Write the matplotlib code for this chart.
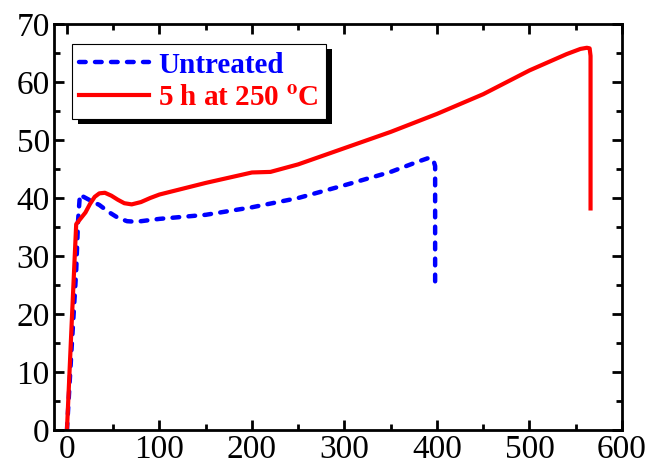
import matplotlib
matplotlib.use("Agg")
import matplotlib.pyplot as plt
from matplotlib.patches import Rectangle
from matplotlib.ticker import MultipleLocator

plt.rcParams['font.family'] = ['Liberation Serif', 'DejaVu Serif']
plt.rcParams['mathtext.fontset'] = 'stix'

# Untreated curve
x_untreated = [0, 5, 10, 12, 14, 18, 25, 35, 45, 55, 65, 75, 100, 150, 200, 250, 300, 350, 380, 391, 396, 398, 398]
y_untreated = [0, 14, 27.5, 36, 40.6, 40.2, 39.6, 38.8, 37.6, 36.6, 36.0, 35.9, 36.4, 37.1, 38.4, 40.0, 42.2, 44.5, 46.3, 46.9, 46.6, 45.5, 25.5]

# 5 h at 250 C curve
x_treated = [0, 5, 10, 15, 20, 25, 30, 35, 41, 48, 55, 62, 70, 80, 90, 100, 150, 200, 220, 250, 300, 350, 400, 450, 500, 540, 555, 562, 565, 566, 566]
y_treated = [0, 18, 35.5, 36.5, 37.5, 39.0, 40.2, 40.8, 40.9, 40.4, 39.7, 39.1, 38.9, 39.3, 40.0, 40.6, 42.6, 44.4, 44.5, 45.8, 48.6, 51.4, 54.5, 57.9, 62.0, 64.8, 65.7, 65.9, 65.8, 64.5, 38.2]

xticks = [0, 100, 200, 300, 400, 500, 600]
yticks = [0, 10, 20, 30, 40, 50, 60, 70]

fig = plt.figure(figsize=(6.51, 4.73), dpi=100)
ax = fig.add_axes([54 / 651, 43 / 473, 568 / 651, 406 / 473])

ax.plot(x_untreated, y_untreated, color='#0000ff', lw=3.2, ls=(0, (1.5, 2.1)),
        dash_capstyle='round', label='Untreated')
ax.plot(x_treated, y_treated, color='#ff0000', lw=3.0, label='5 h at 250 $^{\\mathbf{o}}$C')

ax.set_xlim(-14, 600)
ax.set_ylim(0, 70)
ax.set_xticks(xticks)
ax.set_yticks(yticks)
ax.xaxis.set_minor_locator(MultipleLocator(50))
ax.yaxis.set_minor_locator(MultipleLocator(5))
ax.tick_params(which='both', direction='in', top=True, right=True, labelsize=24, width=2, pad=3)
ax.tick_params(which='major', length=7)
ax.tick_params(which='minor', length=4)
for s in ax.spines.values():
    s.set_linewidth(2)

leg = ax.legend(loc='upper left', bbox_to_anchor=(0.032, 0.95), frameon=True, fancybox=False,
                edgecolor='black', framealpha=1, borderaxespad=0,
                prop={'weight': 'bold', 'size': 21}, handlelength=2.4, handletextpad=0.3,
                borderpad=0.25, labelspacing=0.2)
leg.get_frame().set_linewidth(0.8)
for txt, ln in zip(leg.get_texts(), leg.get_lines()):
    txt.set_color(ln.get_color())

# black drop shadow behind the legend
fig.canvas.draw()
bb = leg.get_window_extent().transformed(fig.transFigure.inverted())
shadow = Rectangle((bb.x0 + 6 / 651, bb.y0 - 5 / 473), bb.width, bb.height,
                   transform=fig.transFigure, facecolor='black', edgecolor='none', zorder=4)
fig.patches.append(shadow)
leg.set_zorder(10)
ax.set_zorder(5)
ax.patch.set_visible(False)

fig.savefig('out.png', dpi=100)
